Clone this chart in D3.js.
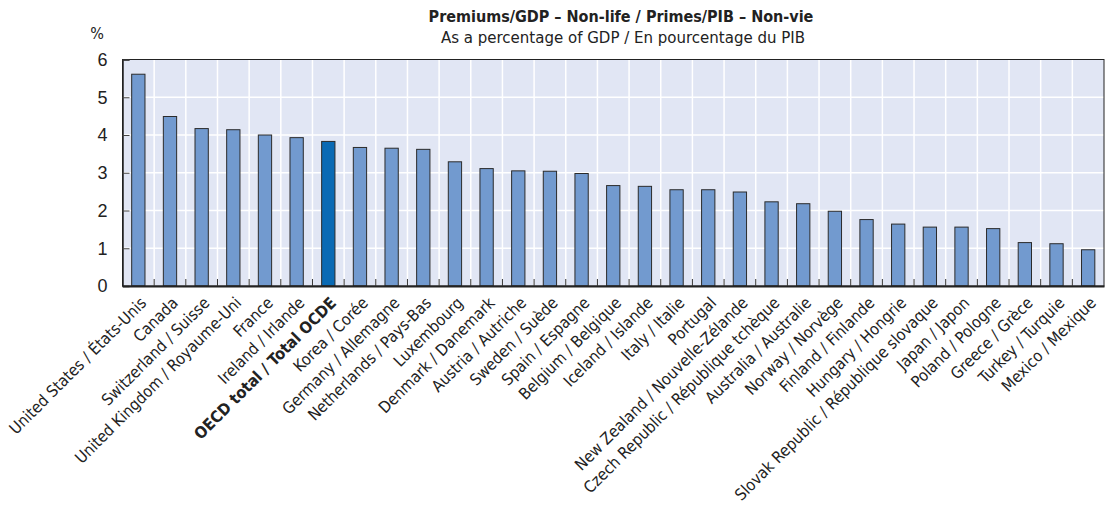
<!DOCTYPE html>
<html lang="en">
<head>
<meta charset="UTF-8">
<title>Premiums/GDP – Non-life</title>
<script src="https://cdn.jsdelivr.net/npm/d3@7/dist/d3.min.js"></script>
<style>
  body { margin: 0; background: #fff; }
  svg { display: block; font-family: "Liberation Sans Narrow", "DejaVu Sans Condensed", sans-serif; }
  .plot-bg { fill: #e1e6f4; }
  .grid line { stroke: #fff; stroke-width: 1.5; }
  .bar { fill: #729acf; stroke: #2b2b2b; stroke-width: 1; }
  .bar.total { fill: #0a6ab4; }
  .tick-label { fill: #222; }
</style>
</head>
<body>
<div id="chart"></div>
<script>
"use strict";

var countries = [
  "United States / États-Unis", "Canada", "Switzerland / Suisse",
  "United Kingdom / Royaume-Uni", "France", "Ireland / Irlande",
  "OECD total / Total OCDE", "Korea / Corée", "Germany / Allemagne",
  "Netherlands / Pays-Bas", "Luxembourg", "Denmark / Danemark",
  "Austria / Autriche", "Sweden / Suède", "Spain / Espagne",
  "Belgium / Belgique", "Iceland / Islande", "Italy / Italie", "Portugal",
  "New Zealand / Nouvelle-Zélande", "Czech Republic / République tchèque",
  "Australia / Australie", "Norway / Norvège", "Finland / Finlande",
  "Hungary / Hongrie", "Slovak Republic / République slovaque",
  "Japan / Japon", "Poland / Pologne", "Greece / Grèce",
  "Turkey / Turquie", "Mexico / Mexique"
];
var premiums = [
  5.61, 4.49, 4.17, 4.14, 4.00, 3.93, 3.83, 3.67, 3.65, 3.62, 3.29,
  3.11, 3.05, 3.04, 2.98, 2.66, 2.64, 2.55, 2.55, 2.49, 2.23, 2.18,
  1.98, 1.76, 1.64, 1.56, 1.56, 1.52, 1.15, 1.12, 0.96
];
var yTicks = [0, 1, 2, 3, 4, 5, 6];
var totalName = "OECD total / Total OCDE";

var data = countries.map(function(c, i) { return { name: c, value: premiums[i] }; });

var width = 1106, height = 516;
var margin = { top: 59.5, right: 2, bottom: 230, left: 122.5 };

var svg = d3.select("#chart").append("svg")
    .attr("width", width)
    .attr("height", height);

var x = d3.scaleBand()
    .domain(countries)
    .range([margin.left, width - margin.right])
    .padding(0);

var y = d3.scaleLinear()
    .domain([0, 6])
    .range([height - margin.bottom, margin.top]);

var bw = x.bandwidth();

svg.append("rect")
    .attr("class", "plot-bg")
    .attr("x", margin.left)
    .attr("y", margin.top)
    .attr("width", width - margin.right - margin.left)
    .attr("height", y(0) - margin.top);

// grid
var grid = svg.append("g").attr("class", "grid");
grid.selectAll("line.h").data(yTicks.slice(1, -1)).enter().append("line")
    .attr("x1", margin.left).attr("x2", width - margin.right)
    .attr("y1", function(d) { return y(d); })
    .attr("y2", function(d) { return y(d); });
grid.selectAll("line.v").data(countries.slice(1)).enter().append("line")
    .attr("x1", function(d) { return x(d); })
    .attr("x2", function(d) { return x(d); })
    .attr("y1", margin.top).attr("y2", y(0));

// bars
svg.selectAll("rect.bar").data(data).enter().append("rect")
    .attr("class", "bar")
    .classed("total", function(d) { return d.name === totalName; })
    .attr("x", function(d) { return x(d.name) + bw / 2 - bw * 0.21; })
    .attr("width", bw * 0.42)
    .attr("y", function(d) { return y(d.value); })
    .attr("height", function(d) { return y(0) - y(d.value); });

// frame
svg.append("rect")
    .attr("x", margin.left).attr("y", margin.top)
    .attr("width", width - margin.right - margin.left)
    .attr("height", y(0) - margin.top)
    .attr("fill", "none").attr("stroke", "#222").attr("stroke-width", 1);

// y axis
var yAxis = svg.append("g")
    .attr("transform", "translate(" + margin.left + ",0)")
    .call(d3.axisLeft(y).tickValues(yTicks).tickFormat(d3.format("d")).tickSize(-7).tickPadding(15));
yAxis.select(".domain").attr("stroke", "#222").attr("stroke-width", 1.5);
yAxis.selectAll(".tick line").attr("stroke", "#444");
yAxis.selectAll(".tick text")
    .attr("class", "tick-label")
    .style("font-size", "18px")
    .style("font-family", "inherit");

// x axis
var xAxis = svg.append("g")
    .attr("transform", "translate(0," + y(0) + ")")
    .call(d3.axisBottom(x).tickSize(0).tickFormat(""));
xAxis.select(".domain").attr("stroke", "#222").attr("stroke-width", 2);

svg.append("g").selectAll("line").data(countries.slice(1)).enter().append("line")
    .attr("x1", function(d) { return x(d); })
    .attr("x2", function(d) { return x(d); })
    .attr("y1", y(0)).attr("y2", y(0) - 7)
    .attr("stroke", "#333").attr("stroke-width", 1);

svg.append("g").selectAll("text").data(countries).enter().append("text")
    .attr("class", "tick-label")
    .attr("text-anchor", "end")
    .attr("transform", function(d) {
      return "translate(" + (x(d) + bw / 2 + 9) + "," + (y(0) + 18) + ") rotate(-45)";
    })
    .style("font-size", "16.1px")
    .style("font-weight", function(d) { return d === totalName ? "bold" : "normal"; })
    .text(function(d) { return d; });

// titles
svg.append("text")
    .attr("x", 621).attr("y", 22)
    .attr("text-anchor", "middle")
    .style("font-size", "16px").style("font-weight", "bold").attr("fill", "#222")
    .text("Premiums/GDP – Non-life / Primes/PIB – Non-vie");
svg.append("text")
    .attr("x", 623).attr("y", 43)
    .attr("text-anchor", "middle")
    .style("font-size", "16.7px").attr("fill", "#222")
    .text("As a percentage of GDP / En pourcentage du PIB");
svg.append("text")
    .attr("x", 97).attr("y", 39)
    .attr("text-anchor", "middle")
    .style("font-size", "16px").attr("fill", "#222")
    .text("%");
</script>
</body>
</html>
